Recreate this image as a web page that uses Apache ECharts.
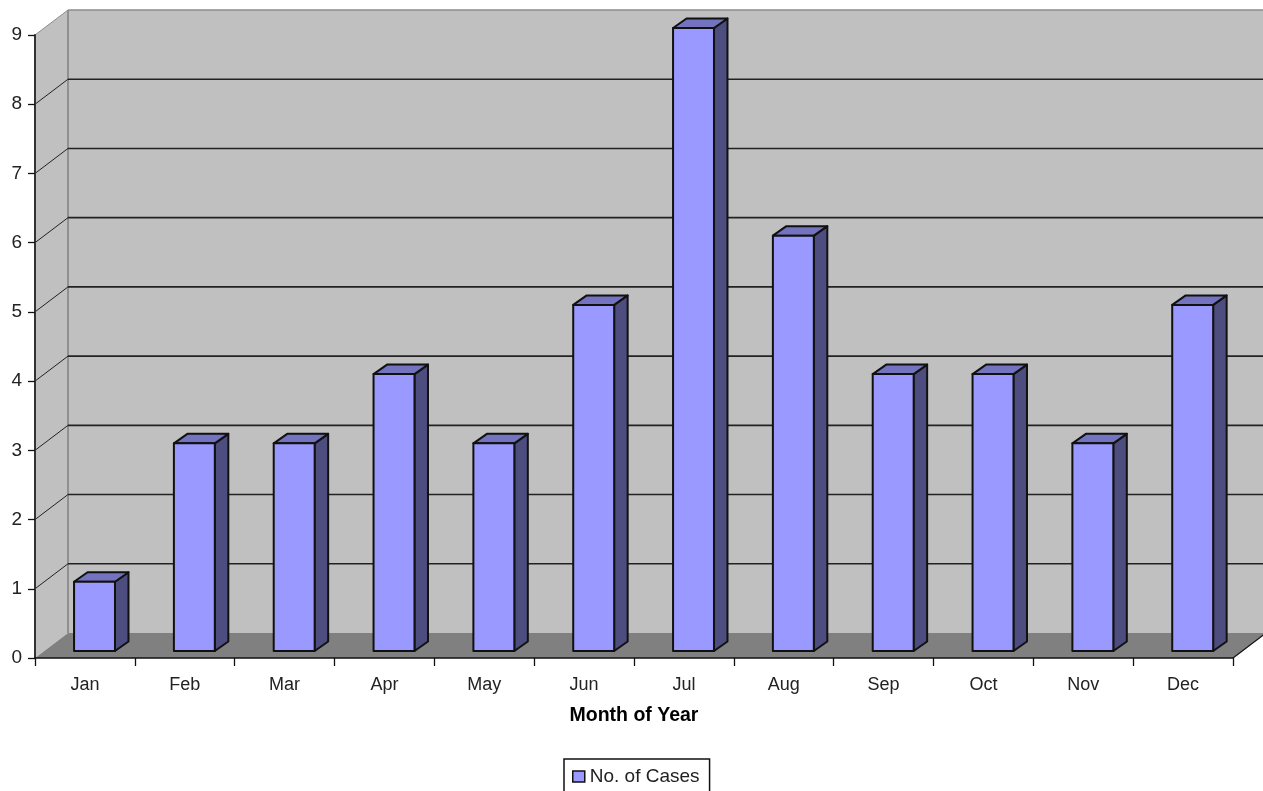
<!DOCTYPE html>
<html>
<head>
<meta charset="utf-8">
<style>html,body{margin:0;padding:0;background:#fff;overflow:hidden}#chart{width:1263px;height:791px}</style>
<script src="https://cdn.jsdelivr.net/npm/echarts@6/dist/echarts.min.js"></script>
</head>
<body>
<div id="chart"></div>
<script>
// Cases recorded per month
const months = ['Jan','Feb','Mar','Apr','May','Jun','Jul','Aug','Sep','Oct','Nov','Dec'];
const cases = [1,3,3,4,3,5,9,6,4,4,3,5];
const yTicks = [0,1,2,3,4,5,6,7,8,9];
const seriesName = 'No. of Cases';
const xAxisTitle = 'Month of Year';

// Pseudo-3D projection: how far the back wall and each bar's depth shift on screen
const WALL_DX = 33, WALL_DY = -25;
const BAR_SHIFT_X = 9.6, BAR_SHIFT_Y = -7;
const BAR_DX = 13.5, BAR_DY = -9.5;
const BAR_RATIO = 0.41;

const FONT = '"Liberation Sans", Arial, sans-serif';
const INK = '#111';

function poly(points, fill, stroke, width) {
  return {
    type: 'polygon',
    shape: { points },
    style: { fill: fill, stroke: stroke || null, lineWidth: width || 0, lineJoin: 'round' }
  };
}
function line(a, b, stroke, width) {
  return {
    type: 'line',
    shape: { x1: a[0], y1: a[1], x2: b[0], y2: b[1] },
    style: { stroke: stroke, lineWidth: width, fill: null }
  };
}

// Side wall, back wall and floor, plus one gridline per y tick
function renderWalls(params, api) {
  const cs = params.coordSys;
  const value = api.value(1);
  const left = cs.x, right = cs.x + cs.width;
  const y = api.coord([0, value])[1];
  const children = [];
  if (value === 0) {
    const top = cs.y, bottom = cs.y + cs.height;
    const back = (p) => [p[0] + WALL_DX, p[1] + WALL_DY];
    children.push(poly([[left, bottom], back([left, bottom]), back([left, top]), [left, top]], '#c0c0c0'));
    children.push(poly([back([left, bottom]), back([right, bottom]), back([right, top]), back([left, top])], '#c0c0c0'));
    children.push(poly([[left, bottom], [right, bottom], back([right, bottom]), back([left, bottom])], '#808080'));
    children.push(line(back([left, bottom]), back([left, top]), '#808080', 1.5));
    children.push(line([right, bottom], back([right, bottom]), INK, 1.2));
  } else {
    const isTop = value === yTicks[yTicks.length - 1];
    const stroke = isTop ? '#8c8c8c' : '#222';
    children.push(line([left, y], [left + WALL_DX, y + WALL_DY], stroke, 1));
    children.push(line([left + WALL_DX, y + WALL_DY], [right + WALL_DX, y + WALL_DY], stroke, 1.6));
  }
  return { type: 'group', children };
}

// One extruded bar: front face, top face and right side
function renderBar(params, api) {
  const idx = api.value(0);
  const base = api.coord([idx, 0]);
  const tip = api.coord([idx, api.value(1)]);
  const w = api.size([1, 0])[0] * BAR_RATIO;
  const x0 = base[0] + BAR_SHIFT_X - w / 2;
  const x1 = x0 + w;
  const y0 = base[1] + BAR_SHIFT_Y;
  const y1 = tip[1] + BAR_SHIFT_Y;
  return {
    type: 'group',
    children: [
      poly([[x1, y0], [x1 + BAR_DX, y0 + BAR_DY], [x1 + BAR_DX, y1 + BAR_DY], [x1, y1]], '#4d4d80', INK, 2),
      poly([[x0, y1], [x0 + BAR_DX, y1 + BAR_DY], [x1 + BAR_DX, y1 + BAR_DY], [x1, y1]], '#7373bf', INK, 2),
      poly([[x0, y0], [x1, y0], [x1, y1], [x0, y1]], '#9999ff', INK, 2)
    ]
  };
}

const chart = echarts.init(document.getElementById('chart'), null, { renderer: 'canvas' });
chart.setOption({
  animation: false,
  backgroundColor: '#fff',
  grid: { left: 35, right: 30, top: 35, bottom: 133 },
  legend: {
    data: [seriesName],
    left: 564,
    top: 759,
    padding: [8, 10, 12, 8],
    borderColor: INK,
    borderWidth: 1.5,
    backgroundColor: '#fff',
    icon: 'rect',
    itemWidth: 12,
    itemHeight: 11,
    itemGap: 0,
    itemStyle: { borderColor: INK, borderWidth: 1.5 },
    textStyle: { fontFamily: FONT, fontSize: 19, color: '#222' }
  },
  xAxis: {
    type: 'category',
    data: months,
    z: 3,
    name: xAxisTitle,
    nameLocation: 'middle',
    nameGap: 48,
    nameTextStyle: { fontFamily: FONT, fontSize: 19.5, fontWeight: 'bold', color: '#000' },
    axisLine: { lineStyle: { color: INK, width: 1.5 } },
    axisTick: { show: true, length: 8, lineStyle: { color: INK, width: 1.3 } },
    axisLabel: { fontFamily: FONT, fontSize: 18, color: '#222', margin: 18 },
    splitLine: { show: false }
  },
  yAxis: {
    type: 'value',
    min: 0,
    max: 9,
    interval: 1,
    z: 3,
    axisLine: { show: true, lineStyle: { color: '#333', width: 2 } },
    axisTick: { show: true, length: 7, lineStyle: { color: INK, width: 1.3 } },
    axisLabel: { fontFamily: FONT, fontSize: 19, color: '#222', margin: 13 },
    splitLine: { show: false }
  },
  series: [
    {
      type: 'custom',
      z: 1,
      silent: true,
      clip: false,
      renderItem: renderWalls,
      encode: { x: 0, y: 1 },
      data: yTicks.map((v) => [0, v])
    },
    {
      type: 'custom',
      name: seriesName,
      z: 4,
      clip: false,
      itemStyle: { color: '#9999ff' },
      renderItem: renderBar,
      encode: { x: 0, y: 1 },
      data: cases.map((v, i) => [i, v])
    }
  ]
});
</script>
</body>
</html>
